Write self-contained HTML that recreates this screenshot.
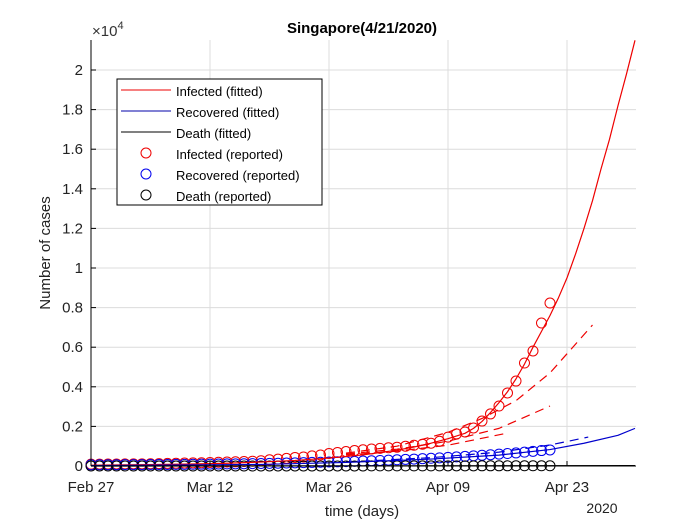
<!DOCTYPE html>
<html><head><meta charset="utf-8"><style>
body{margin:0;background:#fff;width:700px;height:525px;overflow:hidden}
svg text{font-family:"Liberation Sans",Arial,sans-serif}
</style></head><body>
<svg id="chart" width="700" height="525" xmlns="http://www.w3.org/2000/svg">
<g id="grid"></g>
<g id="series"></g>
<g id="axes"></g>
<text x="362" y="33" text-anchor="middle" font-size="15" font-weight="bold">Singapore(4/21/2020)</text>
<text x="92" y="36" font-size="15" fill="#333">×10<tspan dy="-7" font-size="11">4</tspan></text>
<text transform="translate(50,253) rotate(-90)" text-anchor="middle" font-size="15" fill="#222">Number of cases</text>
<text x="362" y="516" text-anchor="middle" font-size="15" fill="#222">time (days)</text>
<text x="602" y="513" text-anchor="middle" font-size="14" fill="#222">2020</text>
<g id="legend">
<rect x="117" y="79" width="205" height="126" fill="#fff" stroke="#000" stroke-width="1"/>
<line x1="121" y1="90" x2="171" y2="90" stroke="#e00" stroke-width="1"/>
<text x="176" y="96" font-size="13">Infected (fitted)</text>
<line x1="121" y1="111" x2="171" y2="111" stroke="#00a" stroke-width="1"/>
<text x="176" y="117" font-size="13">Recovered (fitted)</text>
<line x1="121" y1="132" x2="171" y2="132" stroke="#000" stroke-width="1"/>
<text x="176" y="138" font-size="13">Death (fitted)</text>
<circle cx="146" cy="153" r="5" fill="none" stroke="#e00"/>
<text x="176" y="159" font-size="13">Infected (reported)</text>
<circle cx="146" cy="174" r="5" fill="none" stroke="#00e"/>
<text x="176" y="180" font-size="13">Recovered (reported)</text>
<circle cx="146" cy="195" r="5" fill="none" stroke="#000"/>
<text x="176" y="201" font-size="13">Death  (reported)</text>
</g>
</svg>
<script>
const xTickLabels=["Feb 27","Mar 12","Mar 26","Apr 09","Apr 23"];
const xTickDays=[0,14,28,42,56];
const yTicks=[0,0.2,0.4,0.6,0.8,1,1.2,1.4,1.6,1.8,2];
const infectedReported=[93,96,98,102,106,108,110,112,117,130,138,150,160,166,178,187,200,212,226,243,266,313,345,385,432,455,509,558,631,683,732,780,820,860,890,920,950,1000,1050,1100,1150,1250,1460,1620,1720,1920,2270,2630,3030,3690,4290,5200,5810,7220,8230];
const recoveredReported=[60,62,64,66,68,70,72,74,76,78,80,84,88,92,96,100,105,110,115,120,126,134,142,150,160,170,180,190,200,212,224,236,250,265,280,296,314,332,350,370,390,412,436,460,486,512,540,570,600,630,660,700,740,780,810];
const deathReported=[0,0,0,0,0,0,0,0,0,0,0,0,0,0,0,0,0,0,0,0,0,2,2,2,2,2,2,3,3,3,3,3,3,4,5,6,6,6,6,6,6,6,7,8,8,9,10,10,10,10,11,11,11,11,11];
const fitInfDays=[0,4,8,12,16,20,24,28,32,36,38,40,42,44,45,46,47,48,49,50,51,52,53,54,55,56,57,58,59,60,61,62,63,64];
const fitInfVals=[40,55,75,100,140,200,280,400,560,800,960,1150,1380,1650,1900,2250,2700,3200,3750,4400,5150,6000,6800,7600,8500,9500,10700,12000,13400,15000,16500,18200,19800,21500];
const dashInfHiDays=[30,36,42,46,50,54,59];
const dashInfHiVals=[650,1000,1700,2400,3300,4700,7120];
const dashInfMidDays=[30,36,42,48,54];
const dashInfMidVals=[600,850,1250,1900,3030];
const dashInfLoDays=[30,36,42,48.5];
const dashInfLoVals=[550,750,1050,1620];
const fitRecDays=[0,20,30,40,48,54,58,62,64];
const fitRecVals=[20,80,180,350,550,830,1150,1550,1900];
const dashRecDays=[30,40,48,54,58.5];
const dashRecVals=[200,420,700,1060,1460];
const fitDeathDays=[0,64];
const fitDeathVals=[0,20];

const X0=91,PX_PER_DAY=8.5,Y0=466,PX_PER_UNIT=0.0198;
const xs=d=>X0+d*PX_PER_DAY;
const ys=v=>Y0-v*PX_PER_UNIT;
const NS="http://www.w3.org/2000/svg";
const grid=document.getElementById('grid'),axes=document.getElementById('axes'),ser=document.getElementById('series');
function mk(tag,attrs,parent){const e=document.createElementNS(NS,tag);for(const k in attrs)e.setAttribute(k,attrs[k]);parent.appendChild(e);return e;}
const RIGHT=636,TOP=40;
xTickDays.forEach((d,i)=>{
  const g=mk('line',{x1:xs(d),x2:xs(d),y1:TOP,y2:Y0,stroke:'#dcdcdc'},grid);
  
  
  const t=mk('line',{x1:xs(d),x2:xs(d),y1:Y0,y2:Y0-5,stroke:'#000'},axes);
  
  
  const l=mk('text',{x:xs(d),y:Y0+26,'text-anchor':'middle','font-size':'15',fill:'#222'},axes);
  l.textContent=xTickLabels[i];
  
  
});
yTicks.forEach(v=>{
  const y=ys(v*10000);
  const g=mk('line',{x1:X0,x2:RIGHT,y1:y,y2:y,stroke:'#dcdcdc'},grid);
  
  
  const t=mk('line',{x1:X0,x2:X0+5,y1:y,y2:y,stroke:'#000'},axes);
  
  
  const l=mk('text',{x:X0-8,y:y+5,'text-anchor':'end','font-size':'15',fill:'#222'},axes);
  l.textContent=String(v);
  
  
});
const ax1=mk('line',{x1:X0,x2:X0,y1:TOP,y2:Y0,stroke:'#000'},axes);


const ax2=mk('line',{x1:X0,x2:RIGHT,y1:Y0,y2:Y0,stroke:'#000'},axes);


function line(days,vals,color,dash,name){
  const pts=days.map((d,i)=>xs(d)+','+Math.max(ys(vals[i]),TOP)).join(' ');
  const p=mk('polyline',{points:pts,fill:'none',stroke:color,'stroke-width':'1.2','stroke-linejoin':'round'},ser);
  if(dash)p.setAttribute('stroke-dasharray','9,6');
  
  
}
line(dashInfHiDays,dashInfHiVals,'#e00',true,'infected-dashed-upper');
line(dashInfMidDays,dashInfMidVals,'#e00',true,'infected-dashed-middle');
line(dashInfLoDays,dashInfLoVals,'#e00',true,'infected-dashed-lower');
line(dashRecDays,dashRecVals,'#00c',true,'recovered-dashed');
function pts(vals,color,name){
  vals.forEach((v,i)=>{
    const c=mk('circle',{cx:xs(i),cy:ys(v),r:5,fill:'none',stroke:color,'stroke-width':'1'},ser);
    
    
  });
}
pts(infectedReported,'#e00','infected-reported-point');
pts(recoveredReported,'#00e','recovered-reported-point');
pts(deathReported,'#000','death-reported-point');
line(fitInfDays,fitInfVals,'#e00',false,'infected-fitted-line');
line(fitRecDays,fitRecVals,'#00c',false,'recovered-fitted-line');
line(fitDeathDays,fitDeathVals,'#000',false,'death-fitted-line');
</script>
</body></html>
